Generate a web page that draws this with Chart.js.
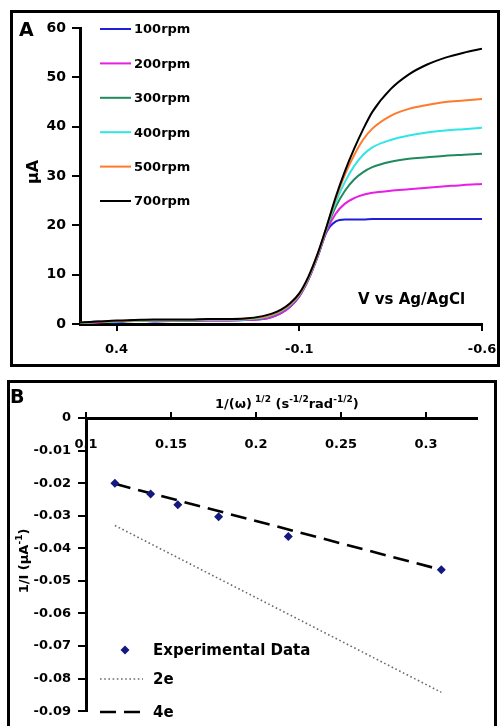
<!DOCTYPE html>
<html>
<head>
<meta charset="utf-8">
<script src="https://cdn.jsdelivr.net/npm/chart.js@4/dist/chart.umd.min.js"></script>
<style>
  html, body { margin: 0; padding: 0; background: #fff; overflow: hidden; }
  body { width: 500px; height: 726px; position: relative; }
  canvas { position: absolute; left: 0; }
  #cA { top: 0; }
  #cB { top: 372px; }
  .frame { position: absolute; border: 3px solid #000; box-sizing: border-box; pointer-events: none; }
  #frameA { left: 10px; top: 10px; width: 490px; height: 357px; }
  #frameB { left: 7px; top: 380px; width: 490px; height: 360px; }
</style>
</head>
<body>
<canvas id="cA" width="500" height="372"></canvas>
<canvas id="cB" width="500" height="354"></canvas>
<div class="frame" id="frameA"></div>
<div class="frame" id="frameB"></div>
<script>
// ---------- Panel A: hydrodynamic voltammograms ----------
const voltage = [0.5, 0.45, 0.4, 0.35, 0.3, 0.25, 0.2, 0.15, 0.1, 0.05, 0.0, -0.025, -0.05, -0.075, -0.1,
  -0.125, -0.15, -0.175, -0.2, -0.225, -0.25, -0.275, -0.3, -0.35, -0.4, -0.45, -0.5, -0.55, -0.6];

const current100 = [0.1, 0.5, 0.3, 0.8, 0.5, 0.6, 0.6, 0.7, 0.7, 0.8, 1.0, 1.4, 2.2, 3.5, 5.6,
  9.0, 13.6, 18.7, 20.8, 21.2, 21.2, 21.2, 21.3, 21.3, 21.3, 21.3, 21.3, 21.3, 21.3];
const current200 = [0.2, 0.3, 0.5, 0.6, 0.6, 0.6, 0.7, 0.7, 0.7, 0.8, 1.0, 1.4, 2.2, 3.5, 5.6,
  9.0, 13.6, 18.9, 22.4, 24.4, 25.5, 26.2, 26.6, 27.0, 27.3, 27.6, 27.9, 28.2, 28.4];
const current300 = [0.2, 0.4, 0.5, 0.6, 0.7, 0.7, 0.7, 0.8, 0.8, 0.9, 1.2, 1.7, 2.5, 3.8, 5.8,
  9.2, 13.8, 19.3, 23.8, 27.0, 29.3, 30.8, 31.8, 32.9, 33.5, 33.8, 34.1, 34.3, 34.5];
const current400 = [0.2, 0.4, 0.5, 0.6, 0.7, 0.7, 0.7, 0.8, 0.8, 0.9, 1.3, 1.8, 2.6, 3.9, 5.9,
  9.3, 13.9, 19.5, 24.7, 28.8, 32.0, 34.3, 35.8, 37.3, 38.2, 38.8, 39.2, 39.5, 39.8];
const current500 = [0.3, 0.4, 0.6, 0.7, 0.8, 0.8, 0.8, 0.9, 0.9, 1.0, 1.4, 1.9, 2.7, 4.0, 6.0,
  9.4, 14.0, 19.7, 25.4, 30.3, 34.2, 37.4, 39.6, 42.2, 43.6, 44.4, 45.0, 45.3, 45.6];
const current700 = [0.3, 0.5, 0.7, 0.8, 0.9, 0.9, 0.9, 1.0, 1.0, 1.1, 1.6, 2.1, 2.9, 4.2, 6.2,
  9.6, 14.2, 19.8, 25.8, 31.0, 35.5, 39.5, 43.0, 47.6, 50.6, 52.6, 54.0, 55.0, 55.8];

const rpmLabels = ['100rpm', '200rpm', '300rpm', '400rpm', '500rpm', '700rpm'];
const xTicksA = [0.4, -0.1, -0.6];
const xTickLabelsA = ['0.4', '-0.1', '-0.6'];
const yTicksA = [0, 10, 20, 30, 40, 50, 60];
const yTickLabelsA = ['0', '10', '20', '30', '40', '50', '60'];

// ---------- Panel B: Koutecky-Levich plot ----------
const omegaInvSqrt = [0.117, 0.138, 0.154, 0.178, 0.219, 0.309];
const inverseCurrent = [-0.0200, -0.0233, -0.0266, -0.0303, -0.0364, -0.0466];
const fitX = [0.117, 0.309];
const fit2e = [-0.0330, -0.0842];
const fit4e = [-0.0202, -0.0466];
const seriesLabelsB = ['Experimental Data', '2e', '4e'];
const xTicksB = [0.1, 0.15, 0.2, 0.25, 0.3];
const xTickLabelsB = ['0.1', '0.15', '0.2', '0.25', '0.3'];
const yTicksB = [0, -0.01, -0.02, -0.03, -0.04, -0.05, -0.06, -0.07, -0.08, -0.09];
const yTickLabelsB = ['0', '-0.01', '-0.02', '-0.03', '-0.04', '-0.05', '-0.06', '-0.07', '-0.08', '-0.09'];

const FONT = 'DejaVu Sans';
const toPoints = (xs, ys) => xs.map((x, i) => ({ x: x, y: ys[i] }));

// draws a run of text pieces, some raised as superscripts
function drawRich(ctx, parts, x, y, align) {
  const widths = parts.map(p => { ctx.font = 'bold ' + p.size + 'px ' + FONT; return ctx.measureText(p.text).width; });
  const total = widths.reduce((a, b) => a + b, 0);
  let cx = align === 'center' ? x - total / 2 : x;
  ctx.textAlign = 'left';
  ctx.textBaseline = 'alphabetic';
  parts.forEach((p, i) => {
    ctx.font = 'bold ' + p.size + 'px ' + FONT;
    ctx.fillText(p.text, cx, y - (p.raise || 0));
    cx += widths[i];
  });
}

const axisGrid = (len, w) => ({ display: true, drawOnChartArea: false, drawTicks: true, tickLength: len, color: '#000', lineWidth: w });
const tickFont = (size) => ({ family: FONT, weight: 'bold', size: size });
// end labels may overhang the plot edge; keep the plot area fixed
const fixedHeight = (h) => (s) => { s.height = h; s.paddingLeft = 0; s.paddingRight = 0; };

const seriesA = [current100, current200, current300, current400, current500, current700];
const colorsA = ['#1f1fd6', '#e61ee6', '#1e8a5e', '#2ee6e6', '#ff7a2a', '#000000'];

const panelAPlugin = {
  id: 'panelAText',
  afterDraw(chart) {
    const ctx = chart.ctx;
    ctx.save();
    ctx.fillStyle = '#000';
    ctx.font = 'bold 19px ' + FONT;
    ctx.textAlign = 'left';
    ctx.textBaseline = 'alphabetic';
    ctx.fillText('A', 19, 36);

    ctx.save();
    ctx.translate(34, 172);
    ctx.rotate(-Math.PI / 2);
    ctx.font = 'bold 16px ' + FONT;
    ctx.textAlign = 'center';
    ctx.textBaseline = 'middle';
    ctx.fillText('\u00b5A', 0, 0);
    ctx.restore();

    ctx.font = 'bold 15px ' + FONT;
    ctx.textAlign = 'left';
    ctx.textBaseline = 'middle';
    ctx.fillText('V vs Ag/AgCl', 358, 300);

    // legend
    chart.data.datasets.forEach((ds, i) => {
      const y = 29 + 34.4 * i;
      ctx.strokeStyle = ds.borderColor;
      ctx.lineWidth = 2;
      ctx.beginPath();
      ctx.moveTo(100, y);
      ctx.lineTo(131, y);
      ctx.stroke();
      ctx.fillStyle = '#000';
      ctx.font = 'bold 13px ' + FONT;
      ctx.textBaseline = 'middle';
      ctx.fillText(ds.label, 134, y + 1);
    });
    ctx.restore();
  }
};

new Chart(document.getElementById('cA'), {
  type: 'line',
  data: {
    datasets: seriesA.map((s, i) => ({
      label: rpmLabels[i],
      data: toPoints(voltage, s),
      borderColor: colorsA[i],
      backgroundColor: colorsA[i],
      borderWidth: 2,
      pointRadius: 0,
      cubicInterpolationMode: 'monotone',
      fill: false,
      order: i === 5 ? 0 : 6 - i
    }))
  },
  options: {
    responsive: false,
    animation: false,
    devicePixelRatio: 1,
    layout: { padding: { left: 0, top: 28, right: 18, bottom: 0 } },
    plugins: { legend: { display: false }, tooltip: { enabled: false } },
    scales: {
      x: {
        type: 'linear', position: 'bottom', min: -0.6, max: 0.5, reverse: true,
        afterBuildTicks: (s) => { s.ticks = xTicksA.map(v => ({ value: v })); },
        afterFit: fixedHeight(48),
        grid: axisGrid(7, 2),
        border: { display: true, color: '#000', width: 3 },
        ticks: { autoSkip: false, maxRotation: 0, padding: 11, color: '#000', font: tickFont(13),
          callback: (v, i) => xTickLabelsA[i] }
      },
      y: {
        type: 'linear', position: 'left', min: 0, max: 60,
        afterBuildTicks: (s) => { s.ticks = yTicksA.map(v => ({ value: v })); },
        afterFit: (s) => { s.width = 80; },
        grid: axisGrid(8, 2),
        border: { display: true, color: '#000', width: 3 },
        ticks: { autoSkip: false, padding: 6, color: '#000', font: tickFont(14),
          callback: (v, i) => yTickLabelsA[i] }
      }
    }
  },
  plugins: [panelAPlugin]
});

const panelBPlugin = {
  id: 'panelBText',
  afterDraw(chart) {
    const ctx = chart.ctx;
    const ds = chart.data.datasets;
    ctx.save();
    ctx.fillStyle = '#000';
    ctx.font = 'bold 19px ' + FONT;
    ctx.textAlign = 'left';
    ctx.textBaseline = 'alphabetic';
    ctx.fillText('B', 10, 31);

    drawRich(ctx, [
      { text: '1/(\u03c9)', size: 13 },
      { text: ' 1/2', size: 9, raise: 6 },
      { text: ' (s', size: 13 },
      { text: '-1/2', size: 9, raise: 6 },
      { text: 'rad', size: 13 },
      { text: '-1/2', size: 9, raise: 6 },
      { text: ')', size: 13 }
    ], 215, 36, 'left');

    ctx.save();
    ctx.translate(28, 189);
    ctx.rotate(-Math.PI / 2);
    drawRich(ctx, [
      { text: '1/I (\u00b5A', size: 13 },
      { text: '-1', size: 9, raise: 6 },
      { text: ')', size: 13 }
    ], 0, 0, 'center');
    ctx.restore();

    // legend
    ctx.font = 'bold 15px ' + FONT;
    ctx.textBaseline = 'middle';
    ctx.textAlign = 'left';
    const rows = [278, 307, 340];
    // marker row
    ctx.fillStyle = ds[0].backgroundColor;
    ctx.beginPath();
    ctx.moveTo(125, rows[0] - 4.5);
    ctx.lineTo(129.5, rows[0]);
    ctx.lineTo(125, rows[0] + 4.5);
    ctx.lineTo(120.5, rows[0]);
    ctx.closePath();
    ctx.fill();
    // line rows
    [1, 2].forEach((k) => {
      ctx.strokeStyle = ds[k].borderColor;
      ctx.lineWidth = ds[k].borderWidth;
      ctx.setLineDash(ds[k].borderDash);
      ctx.beginPath();
      ctx.moveTo(100, rows[k]);
      ctx.lineTo(143, rows[k]);
      ctx.stroke();
    });
    ctx.setLineDash([]);
    ctx.fillStyle = '#000';
    ds.forEach((d, k) => ctx.fillText(d.label, 153, rows[k] + 1));
    ctx.restore();
  }
};

new Chart(document.getElementById('cB'), {
  type: 'scatter',
  data: {
    datasets: [
      {
        label: seriesLabelsB[0],
        data: toPoints(omegaInvSqrt, inverseCurrent),
        pointStyle: 'rectRot',
        pointRadius: 4.5,
        backgroundColor: '#14197d',
        borderColor: '#14197d',
        borderWidth: 0,
        showLine: false,
        order: 0
      },
      {
        label: seriesLabelsB[1],
        data: toPoints(fitX, fit2e),
        showLine: true,
        borderColor: '#6b6b6b',
        borderWidth: 1.6,
        borderDash: [1.6, 2.6],
        pointRadius: 0,
        order: 2
      },
      {
        label: seriesLabelsB[2],
        data: toPoints(fitX, fit4e),
        showLine: true,
        borderColor: '#000',
        borderWidth: 2.6,
        borderDash: [16, 8],
        pointRadius: 0,
        order: 1
      }
    ]
  },
  options: {
    responsive: false,
    animation: false,
    devicePixelRatio: 1,
    layout: { padding: { left: 0, top: 26, right: 23, bottom: 14 } },
    plugins: { legend: { display: false }, tooltip: { enabled: false } },
    scales: {
      x: {
        type: 'linear', position: 'top', min: 0.1, max: 0.33,
        afterBuildTicks: (s) => { s.ticks = xTicksB.map(v => ({ value: v })); },
        afterFit: fixedHeight(20),
        grid: axisGrid(6, 2),
        border: { display: true, color: '#000', width: 3 },
        ticks: { autoSkip: false, maxRotation: 0, mirror: true, padding: 19, color: '#000', font: tickFont(13),
          callback: (v, i) => xTickLabelsB[i] }
      },
      y: {
        type: 'linear', position: 'left', min: -0.09, max: 0,
        afterBuildTicks: (s) => { s.ticks = yTicksB.map(v => ({ value: v })); },
        afterFit: (s) => { s.width = 86; },
        grid: axisGrid(8, 2),
        border: { display: true, color: '#000', width: 3 },
        ticks: { autoSkip: false, padding: 7, color: '#000', font: tickFont(13),
          callback: (v, i) => yTickLabelsB[i] }
      }
    }
  },
  plugins: [panelBPlugin]
});
</script>
</body>
</html>
